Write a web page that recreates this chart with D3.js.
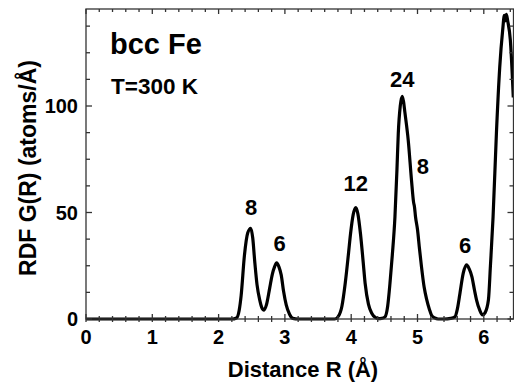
<!DOCTYPE html>
<html><head><meta charset="utf-8">
<script src="https://cdn.jsdelivr.net/npm/d3@7"></script>
<style>body{margin:0;background:#fff}svg{display:block}text{font-family:"Liberation Sans",Arial,sans-serif;font-weight:bold;fill:#000}</style>
</head><body>
<script>
const R = [0,0.5,1.0,1.5,2.0,2.2,2.27,2.31,2.34,2.39,2.44,2.485,2.515,2.545,2.58,2.62,2.65,2.685,2.72,2.77,2.81,2.845,2.875,2.91,2.945,2.98,3.02,3.07,3.12,3.2,3.5,3.75,3.80,3.86,3.91,3.96,3.99,4.03,4.07,4.10,4.14,4.18,4.21,4.26,4.31,4.36,4.41,4.46,4.51,4.55,4.585,4.62,4.66,4.69,4.71,4.74,4.77,4.79,4.81,4.86,4.91,4.94,4.955,4.97,5.0,5.03,5.06,5.10,5.14,5.18,5.21,5.26,5.31,5.4,5.5,5.565,5.60,5.64,5.69,5.74,5.78,5.82,5.86,5.89,5.94,5.98,6.02,6.07,6.10,6.14,6.19,6.24,6.285,6.31,6.325,6.34,6.36,6.40,6.445];
const G = [0,0,0,0,0,0,0.5,4,11,30,40.5,42.6,38,27,16,9,5.5,4.2,6.5,14.4,21,24.6,26.4,24.5,20.6,13,6.6,2.2,0.3,0,0,0,1,6,16.8,31,40,49,52.3,49.5,40,27,16.8,7,2.7,0.8,0.2,0.3,1,6,16.8,30,48,70,87,100,104.5,102,97,84,65,55,52.5,48,42,33,24.6,15,9,4.5,1.9,0.5,0,0,0.3,1,4.5,12,21.5,25.4,23.5,19.9,13.5,9,4,1.9,3,9,25,48,87,118,135.7,142.5,140,143,140,131,104];
const xTicks = [0,1,2,3,4,5,6];
const yTicks = [0,50,100];
const peakLabels = ["8","6","12","24","8","6"];
const peakR = [2.49,2.92,4.07,4.77,5.08,5.72];
const peakG = [49,32,60,109,68,31];

const W=514,H=384;
const L=86,T=9,Rt=513.5,B=319;
const x=d3.scaleLinear().domain([0,6.448]).range([L,Rt]);
const y=d3.scaleLinear().domain([0,(B-T)/2.13]).range([B,T]);
const svg=d3.select("body").append("svg").attr("width",W).attr("height",H);

svg.append("clipPath").attr("id","c").append("rect").attr("x",L).attr("y",T-2).attr("width",Rt-L+2).attr("height",B-T+4);
const line=d3.line().x((d,i)=>x(R[i])).y((d,i)=>y(G[i])).curve(d3.curveMonotoneX);
svg.append("path").attr("clip-path","url(#c)").attr("d",line(R)).attr("fill","none").attr("stroke","#000").attr("stroke-width",3.2).attr("stroke-linejoin","round");

const minorX=d3.range(0,6.45,0.2);
const minorY=d3.range(0,146,12.5);
const ax=svg.append("g").attr("stroke","#333").attr("stroke-width",1.3);
ax.append("rect").attr("x",L).attr("y",T).attr("width",Rt-L).attr("height",B-T).attr("fill","none");
minorX.forEach(v=>{const major=Math.abs(v-Math.round(v))<1e-6;const l=major?5:3;
  ax.append("line").attr("x1",x(v)).attr("x2",x(v)).attr("y1",T).attr("y2",T+l);
  ax.append("line").attr("x1",x(v)).attr("x2",x(v)).attr("y1",B-l).attr("y2",B+3);
});
minorY.forEach(v=>{const major=v%50===0;const l=major?6:4;
  ax.append("line").attr("x1",L).attr("x2",L+l).attr("y1",y(v)).attr("y2",y(v));
  ax.append("line").attr("x1",Rt-l).attr("x2",Rt).attr("y1",y(v)).attr("y2",y(v));
});
svg.selectAll(".xl").data(xTicks).enter().append("text").attr("x",d=>x(d)).attr("y",344).attr("text-anchor","middle").style("font-size","20px").text(d=>d);
svg.selectAll(".yl").data(yTicks).enter().append("text").attr("x",78).attr("y",d=>y(d)+7).attr("text-anchor","end").style("font-size","20px").text(d=>d);
svg.append("text").attr("x",303).attr("y",377).attr("text-anchor","middle").style("font-size","22px").text("Distance R (Å)");
svg.append("text").attr("transform","translate(36,168) rotate(-90)").attr("text-anchor","middle").style("font-size","23px").text("RDF G(R) (atoms/Å)");
svg.append("text").attr("x",110).attr("y",54).style("font-size","29px").text("bcc Fe");
svg.append("text").attr("x",111).attr("y",94).style("font-size","22.5px").text("T=300 K");
svg.selectAll(".pl").data(peakLabels).enter().append("text").attr("x",(d,i)=>x(peakR[i])).attr("y",(d,i)=>y(peakG[i])).attr("text-anchor","middle").style("font-size","22px").text(d=>d);
</script>
</body></html>
